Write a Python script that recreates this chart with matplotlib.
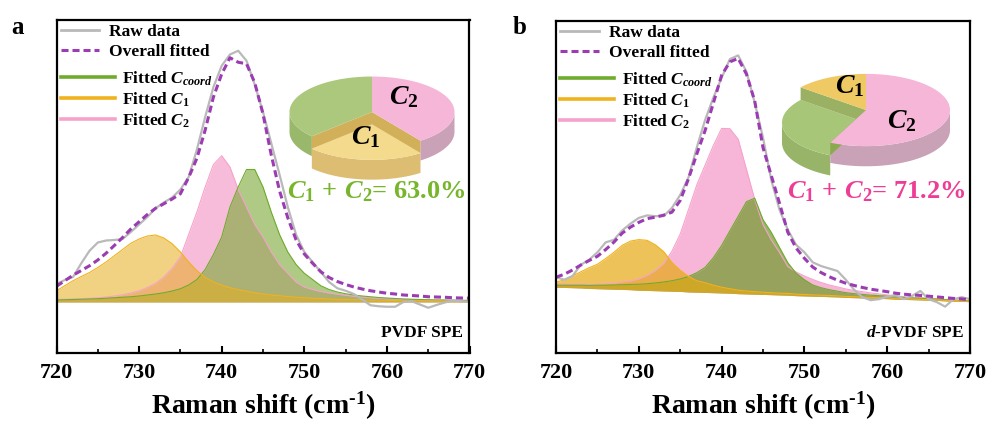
import numpy as np
import matplotlib
matplotlib.use("Agg")
import matplotlib.pyplot as plt
from matplotlib.patches import Polygon
from matplotlib.lines import Line2D

plt.rcParams["font.family"] = ["Liberation Serif", "DejaVu Serif"]
plt.rcParams["font.weight"] = "bold"
plt.rcParams["axes.labelweight"] = "bold"
plt.rcParams["mathtext.fontset"] = "custom"
plt.rcParams["mathtext.rm"] = "Liberation Serif:bold"
plt.rcParams["mathtext.bf"] = "Liberation Serif:bold"
plt.rcParams["mathtext.it"] = "Liberation Serif:italic:bold"

# ---------------- data ----------------
shift = np.arange(720, 771)  # Raman shift grid (cm-1)

# PVDF SPE
raw_a = [0.072, 0.088, 0.100, 0.155, 0.205, 0.238, 0.246, 0.248, 0.252, 0.280,
         0.310, 0.340, 0.375, 0.398, 0.418, 0.450, 0.500, 0.610, 0.740, 0.860,
         0.945, 0.990, 1.005, 0.965, 0.870, 0.760, 0.635, 0.510, 0.380, 0.270,
         0.200, 0.160, 0.120, 0.080, 0.055, 0.045, 0.032, 0.010, -0.013, -0.017,
         -0.019, -0.019, 0.000, 0.003, -0.010, -0.023, -0.012, -0.002, 0.006, 0.003,
         0.000]
c1_a = [0.045, 0.065, 0.085, 0.102, 0.118, 0.138, 0.160, 0.185, 0.210, 0.235,
        0.252, 0.264, 0.268, 0.256, 0.233, 0.200, 0.160, 0.125, 0.098, 0.080,
        0.067, 0.057, 0.049, 0.043, 0.037, 0.032, 0.028, 0.025, 0.022, 0.019,
        0.017, 0.015, 0.014, 0.012, 0.011, 0.010, 0.009, 0.008, 0.007, 0.007,
        0.006, 0.006, 0.005, 0.005, 0.005, 0.004, 0.004, 0.004, 0.003, 0.003,
        0.003]
c2_a = [0.010, 0.011, 0.012, 0.013, 0.015, 0.017, 0.020, 0.024, 0.029, 0.036,
        0.045, 0.058, 0.075, 0.100, 0.135, 0.180, 0.270, 0.360, 0.460, 0.550,
        0.585, 0.540, 0.450, 0.380, 0.310, 0.260, 0.200, 0.150, 0.115, 0.080,
        0.060, 0.050, 0.042, 0.036, 0.031, 0.027, 0.023, 0.020, 0.017, 0.015,
        0.013, 0.012, 0.011, 0.010, 0.009, 0.008, 0.008, 0.007, 0.007, 0.006,
        0.006]
ccoord_a = [0.008, 0.009, 0.010, 0.011, 0.012, 0.013, 0.015, 0.017, 0.019, 0.021,
            0.024, 0.028, 0.032, 0.037, 0.044, 0.053, 0.068, 0.090, 0.130, 0.190,
            0.260, 0.380, 0.460, 0.530, 0.530, 0.460, 0.360, 0.270, 0.200, 0.150,
            0.115, 0.090, 0.065, 0.050, 0.040, 0.033, 0.028, 0.024, 0.021, 0.018,
            0.016, 0.014, 0.012, 0.011, 0.010, 0.009, 0.008, 0.008, 0.007, 0.007,
            0.006]
base_a = [0.0] * 51

# d-PVDF SPE
raw_b = [0.100, 0.090, 0.105, 0.150, 0.170, 0.200, 0.240, 0.250, 0.288, 0.315,
         0.338, 0.348, 0.345, 0.345, 0.378, 0.430, 0.500, 0.620, 0.730, 0.820,
         0.900, 0.975, 0.990, 0.925, 0.800, 0.660, 0.490, 0.370, 0.290, 0.230,
         0.200, 0.160, 0.145, 0.135, 0.125, 0.090, 0.050, 0.020, 0.008, 0.012,
         0.022, 0.028, 0.012, 0.025, 0.045, 0.012, 0.000, -0.018, 0.012, 0.020,
         0.012]
base_b = [0.060, 0.059, 0.058, 0.057, 0.055, 0.054, 0.053, 0.052, 0.051, 0.050,
          0.048, 0.047, 0.046, 0.045, 0.044, 0.043, 0.041, 0.040, 0.039, 0.038,
          0.037, 0.036, 0.034, 0.033, 0.032, 0.031, 0.030, 0.029, 0.028, 0.026,
          0.025, 0.024, 0.023, 0.022, 0.021, 0.019, 0.018, 0.017, 0.016, 0.015,
          0.014, 0.012, 0.011, 0.010, 0.009, 0.008, 0.007, 0.005, 0.004, 0.003,
          0.002]
c1_b = [0.020, 0.031, 0.047, 0.065, 0.083, 0.098, 0.122, 0.148, 0.177, 0.195,
        0.203, 0.201, 0.184, 0.158, 0.115, 0.085, 0.062, 0.046, 0.039, 0.030,
        0.023, 0.018, 0.014, 0.012, 0.010, 0.009, 0.008, 0.007, 0.007, 0.006,
        0.006, 0.005, 0.005, 0.005, 0.004, 0.004, 0.004, 0.003, 0.003, 0.003,
        0.003, 0.002, 0.002, 0.002, 0.002, 0.002, 0.002, 0.002, 0.002, 0.002,
        0.002]
c2_b = [0.012, 0.013, 0.014, 0.016, 0.017, 0.018, 0.021, 0.024, 0.030, 0.035,
        0.045, 0.060, 0.080, 0.110, 0.160, 0.230, 0.330, 0.430, 0.510, 0.590,
        0.660, 0.660, 0.620, 0.500, 0.380, 0.280, 0.220, 0.170, 0.115, 0.095,
        0.080, 0.067, 0.056, 0.047, 0.040, 0.034, 0.029, 0.025, 0.021, 0.018,
        0.015, 0.013, 0.011, 0.010, 0.009, 0.008, 0.007, 0.006, 0.005, 0.004,
        0.003]
ccoord_b = [0.008, 0.009, 0.010, 0.011, 0.012, 0.014, 0.015, 0.017, 0.019, 0.021,
            0.024, 0.027, 0.031, 0.036, 0.042, 0.050, 0.062, 0.078, 0.100, 0.140,
            0.190, 0.250, 0.310, 0.370, 0.385, 0.300, 0.250, 0.190, 0.130, 0.090,
            0.065, 0.045, 0.035, 0.028, 0.023, 0.019, 0.016, 0.014, 0.012, 0.011,
            0.010, 0.009, 0.008, 0.007, 0.007, 0.006, 0.005, 0.005, 0.004, 0.004,
            0.003]

# species fractions (%) shown in the pies
pie_labels = ["Ccoord", "C1", "C2"]
share_a = [37.0, 23.0, 40.0]
share_b = [28.8, 14.2, 57.0]

samples = ["PVDF SPE", "$\\mathit{d}$-PVDF SPE"]
xticks = [720, 730, 740, 750, 760, 770]

# ---------------- styles ----------------
C_RAW = "#b9b9b9"
C_FIT = "#9b3cb3"
C_G, C_Y, C_P = "#6fab2c", "#f1b21d", "#f6a3cb"
DASH = (0, (2.3, 1.3))

W, H = 987, 432
fig = plt.figure(figsize=(W / 100, H / 100), dpi=100)


def px_axes(x0, y0, x1, y1):
    return fig.add_axes([x0 / W, 1 - y1 / H, (x1 - x0) / W, (y1 - y0) / H])


def draw_pie3d(ax, shares, tops, walls, sunk, band, ry=0.43, h=0.24, dz=0.15, start=90):
    total = float(sum(shares))
    edges = [start]
    for v in shares:
        edges.append(edges[-1] + 360.0 * v / total)
    spans = list(zip(edges[:-1], edges[1:]))

    def arc(t0, t1, z):
        t = np.radians(np.linspace(t0, t1, 90))
        return np.column_stack([np.cos(t), ry * np.sin(t) + z])

    # outer rim on the near side
    for i, (a0, a1) in enumerate(spans):
        z = -dz if i == sunk else 0.0
        for lo, hi in ((180, 360), (540, 720)):
            s, e = max(a0, lo), min(a1, hi)
            if e > s:
                top = arc(s, e, z)
                bot = top[::-1] - np.array([0, h])
                ax.add_patch(Polygon(np.vstack([top, bot]), closed=True,
                                     fc=walls[i], ec="none"))
    # lowered slice
    a0, a1 = spans[sunk]
    ax.add_patch(Polygon(np.vstack([[0, -dz], arc(a0, a1, -dz)]), closed=True,
                         fc=tops[sunk], ec="none"))
    for ang in (a0, a1):
        c = np.cos(np.radians(ang))
        s = ry * np.sin(np.radians(ang))
        ax.add_patch(Polygon([[0, 0], [c, s], [c, s - dz], [0, -dz]], closed=True,
                             fc=band, ec="none", alpha=0.85))
    # upper faces
    for i, (b0, b1) in enumerate(spans):
        if i == sunk:
            continue
        ax.add_patch(Polygon(np.vstack([[0, 0], arc(b0, b1, 0)]), closed=True,
                             fc=tops[i], ec="none"))


def spectrum_panel(box, raw, base, c1, c2, cc, sample, fills):
    ax = px_axes(*box)
    x = shift
    base = np.asarray(base)
    c1, c2, cc = np.asarray(c1), np.asarray(c2), np.asarray(cc)
    total = base + c1 + c2 + cc
    (fp, ap), (fg, ag), (fy, ay) = fills
    ax.fill_between(x, base, base + c2, color=fp, alpha=ap, lw=0)
    ax.fill_between(x, base, base + cc, color=fg, alpha=ag, lw=0)
    ax.fill_between(x, base, base + c1, color=fy, alpha=ay, lw=0)
    ax.plot(x, base + c2, color=C_P, lw=0.8)
    ax.plot(x, base + cc, color=C_G, lw=0.8)
    ax.plot(x, base + c1, color=C_Y, lw=0.8)
    ax.plot(x, raw, color=C_RAW, lw=1.6)
    ax.plot(x, total, color=C_FIT, lw=2.2, ls=DASH)

    ax.set_xlim(720, 770)
    ax.set_ylim(-0.204, 1.128)
    ax.set_yticks([])
    ax.set_xticks(xticks)
    ax.set_xticks(np.arange(725, 770, 10), minor=True)
    ax.tick_params(axis="x", which="major", direction="in", length=5, width=1.5,
                   labelsize=16, pad=7)
    ax.tick_params(axis="x", which="minor", direction="in", length=3, width=1.2)
    for sp in ax.spines.values():
        sp.set_linewidth(1.6)
    ax.set_xlabel("Raman shift (cm$^{\u2010 1}$)", fontsize=20, fontweight="bold",
                  labelpad=5)
    ax.text(0.985, 0.035, sample, transform=ax.transAxes, ha="right", va="bottom",
            fontsize=12.5)

    h1 = [Line2D([], [], color=C_RAW, lw=2.0),
          Line2D([], [], color=C_FIT, lw=2.2, ls=DASH)]
    leg1 = ax.legend(h1, ["Raw data", "Overall fitted"], loc="upper left",
                     bbox_to_anchor=(0.0, 1.0), frameon=False, fontsize=12.5,
                     handlelength=2.2, handletextpad=0.6, labelspacing=0.22,
                     borderaxespad=0.15, borderpad=0.1)
    ax.add_artist(leg1)
    h2 = [Line2D([], [], color=C_G, lw=2.6),
          Line2D([], [], color=C_Y, lw=2.6),
          Line2D([], [], color=C_P, lw=2.6)]
    ax.legend(h2, ["Fitted $\\mathit{C}_{\\mathit{coord}}$",
                   "Fitted $\\mathit{C}_{\\mathit{1}}$",
                   "Fitted $\\mathit{C}_{\\mathit{2}}$"],
              loc="upper left", bbox_to_anchor=(0.0, 0.865), frameon=False,
              fontsize=12.5, handlelength=3.1, handletextpad=0.45, labelspacing=0.15,
              borderaxespad=0.15, borderpad=0.1)
    return ax


fills_a = [("#f27ab8", 0.5), ("#78a832", 0.6), ("#e6ad1c", 0.55)]
fills_b = [("#f27ab8", 0.55), ("#6f9a28", 0.7), ("#e6a812", 0.7)]
ax_a = spectrum_panel((56.5, 20, 469.5, 353), raw_a, base_a, c1_a, c2_a, ccoord_a,
                      samples[0], fills_a)
ax_b = spectrum_panel((556, 21, 970, 353), raw_b, base_b, c1_b, c2_b, ccoord_b,
                      samples[1], fills_b)

fig.text(18 / W, 1 - 27 / H, "a", fontsize=18, ha="center", va="center")
fig.text(520 / W, 1 - 27 / H, "b", fontsize=18, ha="center", va="center")


def pie_axes(cx, cy, s):
    ax = px_axes(cx - 90, cy - 42, cx + 90, cy + 68)
    ax.set_xlim(-90 / s, 90 / s)
    ax.set_ylim(-68 / s, 42 / s)
    ax.axis("off")
    return ax


# pie for PVDF SPE: order Ccoord, C1, C2 counter-clockwise from 12 o'clock
pa = pie_axes(372, 112, 82.5)
draw_pie3d(pa, share_a,
           tops=["#abc87c", "#f4da8c", "#f5b6d7"],
           walls=["#9ab86b", "#dcbd72", "#c9a2b8"],
           sunk=1, band="#c9a23c")
pa.text((404 - 372) / 82.5, -(97 - 112) / 82.5, "$\\mathit{C}_{\\mathit{2}}$",
        fontsize=20, ha="center", va="center")
pa.text((366 - 372) / 82.5, -(137 - 112) / 82.5, "$\\mathit{C}_{\\mathit{1}}$",
        fontsize=20, ha="center", va="center")

# pie for d-PVDF SPE: order C1, Ccoord, C2
pb = pie_axes(866, 110, 84)
draw_pie3d(pb, [share_b[1], share_b[0], share_b[2]],
           tops=["#efc963", "#a8c678", "#f5b6d7"],
           walls=["#d8b060", "#98b468", "#c9a2b8"],
           sunk=1, band="#88a448")
pb.text((850 - 866) / 84, -(86 - 110) / 84, "$\\mathit{C}_{\\mathit{1}}$",
        fontsize=20, ha="center", va="center")
pb.text((902 - 866) / 84, -(121 - 110) / 84, "$\\mathit{C}_{\\mathit{2}}$",
        fontsize=20, ha="center", va="center")

SUM_FMT = "$\\mathit{C}_{\\mathit{1}}\\,+\\,\\mathit{C}_{\\mathit{2}}$= %.1f%%"
fig.text(376 / W, 1 - 192 / H, SUM_FMT % (share_a[1] + share_a[2]),
         fontsize=19, color="#77b52b", ha="center", va="center")
fig.text(876 / W, 1 - 192 / H, SUM_FMT % (share_b[1] + share_b[2]),
         fontsize=19, color="#ee3d96", ha="center", va="center")

fig.savefig("out.png", dpi=100)
